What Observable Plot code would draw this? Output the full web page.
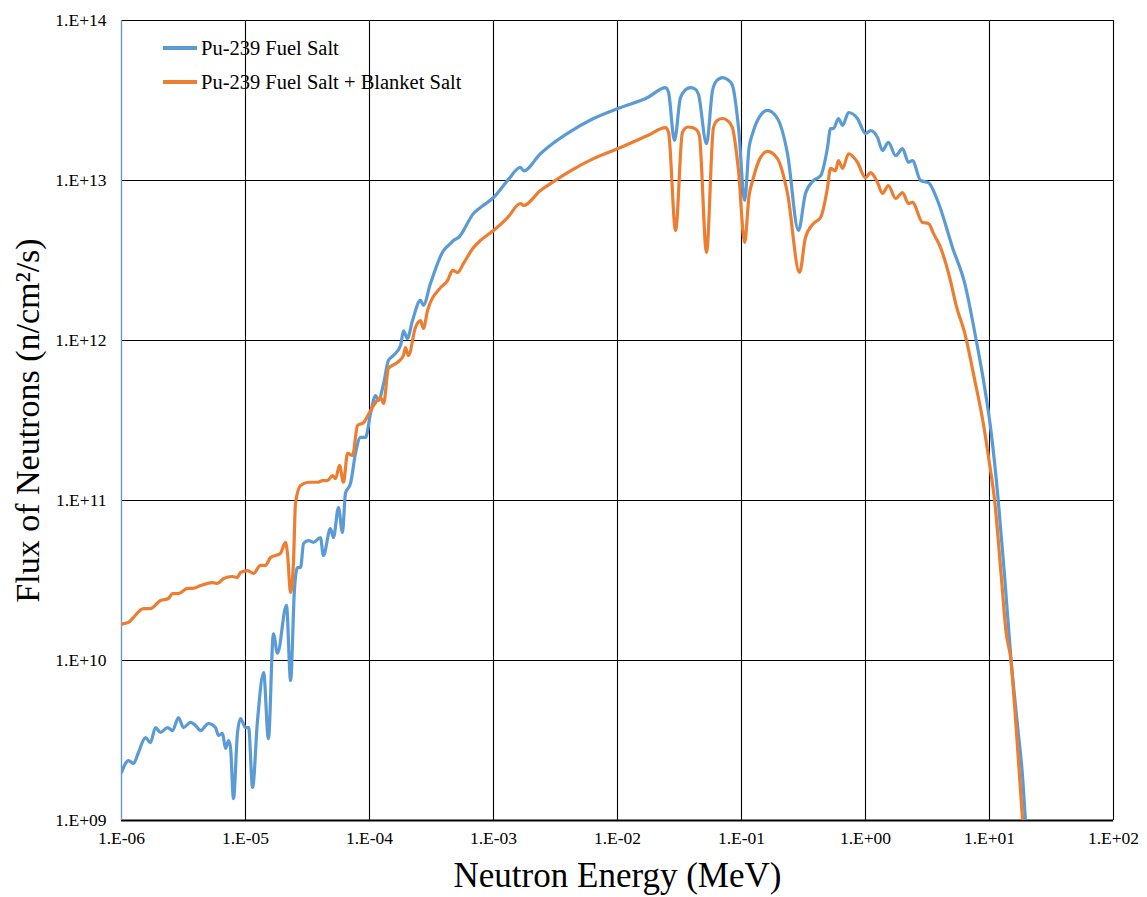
<!DOCTYPE html>
<html>
<head>
<meta charset="utf-8">
<script src="https://cdn.jsdelivr.net/npm/d3@7"></script>
<script src="https://cdn.jsdelivr.net/npm/@observablehq/plot@0.6"></script>
<style>
  body { margin: 0; background: #fff; }
  #wrap { position: relative; width: 1147px; height: 897px; font-family: "Liberation Serif", "Times New Roman", serif; }
  #legend { position: absolute; left: 163px; top: 31px; font-size: 20.5px; color: #000; }
  .li { display: flex; align-items: center; height: 34px; }
  .sw { width: 34px; height: 4px; margin-right: 4px; }
</style>
</head>
<body>
<div id="wrap"></div>
<script>
// Neutron energy (MeV) vs flux (n/cm^2/s)
const fuelSalt = [
  [1.0e-6,2.0e9],[1.14e-6,2.37e9],[1.25e-6,2.27e9],[1.37e-6,2.66e9],[1.56e-6,3.30e9],[1.71e-6,3.07e9],
  [1.88e-6,3.81e9],[2.06e-6,3.55e9],[2.35e-6,3.81e9],[2.58e-6,3.65e9],[2.88e-6,4.40e9],[3.16e-6,3.81e9],
  [3.60e-6,4.10e9],[3.95e-6,3.93e9],[4.34e-6,3.65e9],[5.03e-6,4.04e9],[5.73e-6,3.81e9],[6.05e-6,3.40e9],
  [6.53e-6,3.50e9],[6.90e-6,2.82e9],[7.30e-6,3.16e9],[7.57e-6,2.86e9],[8.00e-6,1.37e9],[8.61e-6,3.50e9],
  [9.12e-6,4.34e9],[1.0e-5,3.81e9],[1.06e-5,3.81e9],[1.14e-5,1.61e9],[1.25e-5,4.22e9],[1.40e-5,8.41e9],
  [1.53e-5,3.25e9],[1.68e-5,1.47e10],[1.81e-5,1.11e10],[2.14e-5,2.21e10],[2.31e-5,7.50e9],[2.48e-5,2.74e10],
  [2.62e-5,3.81e10],[2.78e-5,3.81e10],[2.94e-5,5.39e10],[3.22e-5,5.62e10],[3.53e-5,5.47e10],[4.02e-5,5.87e10],
  [4.25e-5,4.53e10],[4.84e-5,6.68e10],[5.12e-5,5.87e10],[5.62e-5,9.04e10],[6.05e-5,6.31e10],[6.40e-5,1.11e11],
  [7.03e-5,1.28e11],[7.71e-5,1.97e11],[8.45e-5,2.48e11],[9.29e-5,2.48e11],[1.02e-4,3.50e11],[1.12e-4,4.53e11],
  [1.18e-4,4.22e11],[1.30e-4,5.39e11],[1.42e-4,7.50e11],[1.56e-4,8.06e11],[1.78e-4,9.30e11],[1.88e-4,1.15e12],
  [2.02e-4,1.03e12],[2.22e-4,1.33e12],[2.58e-4,1.78e12],[2.72e-4,1.66e12],[3.10e-4,2.27e12],[3.95e-4,3.65e12],
  [4.50e-4,4.04e12],[4.75e-4,4.22e12],[5.22e-4,4.40e12],[6.90e-4,6.22e12],[7.85e-4,6.78e12],[1.0e-3,7.83e12],
  [1.30e-3,1.0e13],[1.65e-3,1.21e13],[1.75e-3,1.15e13],[2.39e-3,1.47e13],[2.88e-3,1.66e13],[3.95e-3,1.97e13],
  [6.40e-3,2.44e13],[1.06e-2,2.86e13],[1.75e-2,3.30e13],[2.44e-2,3.81e13],[2.58e-2,3.55e13],[2.88e-2,1.78e13],
  [3.22e-2,3.30e13],[3.55e-2,3.70e13],[3.88e-2,3.81e13],[4.25e-2,3.72e13],[4.50e-2,3.45e13],[5.22e-2,1.70e13],
  [5.84e-2,3.65e13],[6.30e-2,4.20e13],[7.03e-2,4.40e13],[7.80e-2,4.25e13],[8.45e-2,3.93e13],[9.46e-2,2.14e13],
  [0.106,7.50e12],[0.115,1.60e13],[0.123,1.97e13],[0.142,2.55e13],[0.162,2.74e13],
  [0.195,2.44e13],[0.235,1.47e13],[0.288,4.87e12],[0.328,8.30e12],[0.381,1.0e13],[0.434,1.07e13],
  [0.494,1.61e13],[0.522,2.11e13],[0.552,2.11e13],[0.605,2.44e13],[0.653,2.21e13],[0.730,2.66e13],
  [0.861,2.44e13],[1.0,1.97e13],[1.10,2.05e13],[1.25,1.86e13],[1.37,1.54e13],[1.53,1.73e13],
  [1.75,1.43e13],[1.99,1.58e13],[2.22,1.30e13],[2.39,1.33e13],[2.78,1.0e13],[3.22,9.7e12],
  [3.81,7.5e12],[5.07,3.75e12],[6.30,2.29e12],[7.82,1.0e12],[9.12,5.13e11],[10.3,2.69e11],
  [11.7,1.05e11],[13.2,3.47e10],[14.9,1.02e10],[16.9,3.8e9],[18.5,1.86e9],[19.5,1.0e9]
];
const fuelBlanketSalt = [
  [1.0e-6,1.69e10],[1.14e-6,1.73e10],[1.25e-6,1.86e10],[1.50e-6,2.11e10],[1.71e-6,2.11e10],[2.06e-6,2.37e10],
  [2.39e-6,2.44e10],[2.58e-6,2.62e10],[2.88e-6,2.62e10],[3.41e-6,2.82e10],[3.74e-6,2.82e10],[4.34e-6,2.94e10],
  [5.42e-6,3.07e10],[5.94e-6,3.03e10],[6.65e-6,3.25e10],[7.85e-6,3.35e10],[8.61e-6,3.30e10],[9.12e-6,3.55e10],
  [1.04e-5,3.65e10],[1.16e-5,3.50e10],[1.32e-5,3.93e10],[1.45e-5,3.93e10],[1.59e-5,4.40e10],[1.91e-5,4.67e10],
  [2.10e-5,5.47e10],[2.18e-5,4.67e10],[2.31e-5,2.66e10],[2.44e-5,4.22e10],[2.53e-5,9.57e10],[2.78e-5,1.24e11],
  [3.22e-5,1.30e11],[3.81e-5,1.30e11],[4.18e-5,1.33e11],[4.58e-5,1.33e11],[5.03e-5,1.43e11],[5.32e-5,1.37e11],
  [5.73e-5,1.66e11],[6.17e-5,1.30e11],[6.65e-5,1.97e11],[7.30e-5,1.91e11],[8.00e-5,2.94e11],[8.95e-5,3.07e11],
  [1.02e-4,3.65e11],[1.12e-4,4.10e11],[1.23e-4,4.40e11],[1.30e-4,4.04e11],[1.42e-4,6.68e11],[1.68e-4,7.29e11],
  [1.88e-4,8.06e11],[1.95e-4,9.04e11],[2.06e-4,8.06e11],[2.35e-4,1.21e12],[2.58e-4,1.33e12],[2.72e-4,1.19e12],
  [2.94e-4,1.54e12],[3.74e-4,2.14e12],[4.26e-4,2.37e12],[4.67e-4,2.74e12],[5.13e-4,2.66e12],[5.73e-4,3.03e12],
  [6.90e-4,3.81e12],[7.85e-4,4.22e12],[1.0e-3,4.87e12],[1.30e-3,5.87e12],[1.65e-3,7.18e12],[1.75e-3,6.98e12],
  [2.39e-3,8.66e12],[2.88e-3,9.57e12],[4.18e-3,1.15e13],[6.40e-3,1.37e13],[1.06e-2,1.61e13],[1.75e-2,1.91e13],
  [2.44e-2,2.14e13],[2.58e-2,2.0e13],[2.94e-2,4.87e12],[3.34e-2,2.0e13],[3.70e-2,2.16e13],[4.03e-2,2.14e13],
  [4.40e-2,2.05e13],[4.58e-2,1.90e13],[5.22e-2,3.55e12],[5.94e-2,2.14e13],[6.40e-2,2.38e13],[7.03e-2,2.44e13],
  [7.80e-2,2.35e13],[8.45e-2,2.14e13],[9.46e-2,1.15e13],[0.106,4.10e12],[0.115,8.0e12],
  [0.123,1.0e13],[0.142,1.39e13],[0.162,1.52e13],[0.195,1.37e13],[0.235,8.30e12],[0.294,2.66e12],
  [0.328,4.40e12],[0.381,5.39e12],[0.434,5.87e12],[0.494,9.04e12],[0.522,1.19e13],[0.573,1.15e13],
  [0.605,1.33e13],[0.653,1.19e13],[0.730,1.47e13],[0.861,1.30e13],[1.0,1.04e13],[1.10,1.12e13],
  [1.25,9.72e12],[1.37,8.30e12],[1.53,9.30e12],[1.75,7.72e12],[1.99,8.41e12],[2.22,7.18e12],
  [2.39,7.29e12],[2.88,5.47e12],[3.22,5.39e12],[3.53,4.67e12],[4.03,3.81e12],[4.84,2.37e12],
  [5.40,1.64e12],[6.30,1.12e12],[7.57,5.75e11],[8.83,3.16e11],[10.0,1.70e11],[11.0,1.0e11],
  [12.4,3.47e10],[13.6,1.51e10],[14.9,1.0e10],[16.4,3.8e9],[18.5,1.0e9]
];
const seriesNames = ["Pu-239 Fuel Salt", "Pu-239 Fuel Salt + Blanket Salt"];
const seriesColors = ["#5B9BD5", "#ED7D31"];
const xTicks = [1e-6, 1e-5, 1e-4, 1e-3, 1e-2, 1e-1, 1e0, 1e1, 1e2];
const yTicks = [1e9, 1e10, 1e11, 1e12, 1e13, 1e14];
const xTitle = "Neutron Energy (MeV)";
const yTitle = "Flux of Neutrons (n/cm²/s)";

const expFmt = d => {
  const e = Math.round(Math.log10(d));
  return "1.E" + (e < 0 ? "-" : "+") + String(Math.abs(e)).padStart(2, "0");
};
const font = "Liberation Serif, Times New Roman, serif";

const rows = [
  ...fuelSalt.map(([E, F]) => ({E, F, s: seriesNames[0]})),
  ...fuelBlanketSalt.map(([E, F]) => ({E, F, s: seriesNames[1]}))
];

const chart = Plot.plot({
  width: 1147,
  height: 897,
  marginLeft: 121,
  marginRight: 34,
  marginTop: 20,
  marginBottom: 77,
  style: {fontFamily: font, background: "#fff", color: "#000"},
  x: {type: "log", domain: [1e-6, 1e2]},
  y: {type: "log", domain: [1e9, 1e14]},
  color: {domain: seriesNames, range: seriesColors},
  marks: [
    Plot.ruleX(xTicks, {stroke: "#000", strokeWidth: 1.1}),
    Plot.ruleY(yTicks.slice(1), {stroke: "#000", strokeWidth: 1.1}),
    Plot.ruleY([1e9], {stroke: "#000", strokeWidth: 2}),
    Plot.ruleX([1e-6], {stroke: "#5B9BD5", strokeWidth: 1.2}),
    Plot.line(rows, {x: "E", y: "F", z: "s", stroke: "s", strokeWidth: 3.2, curve: "monotone-x", clip: true}),
    Plot.axisX(xTicks, {tickSize: 0, tickPadding: 11, tickFormat: expFmt, fontSize: 17.5, label: null}),
    Plot.axisY(yTicks, {tickSize: 0, tickPadding: 15, tickFormat: expFmt, fontSize: 17.5, label: null}),
    Plot.text([xTitle], {frameAnchor: "bottom", dy: 66, fontSize: 35, fontFamily: font, fill: "#000"}),
    Plot.text([yTitle], {frameAnchor: "left", textAnchor: "middle", dx: -93, rotate: -90, fontSize: 34, fontFamily: font, fill: "#000"})
  ]
});

const wrap = document.getElementById("wrap");
wrap.appendChild(chart);
const legend = document.createElement("div");
legend.id = "legend";
seriesNames.forEach((n, i) => {
  const li = document.createElement("div");
  li.className = "li";
  const sw = document.createElement("div");
  sw.className = "sw";
  sw.style.background = seriesColors[i];
  const t = document.createElement("span");
  t.textContent = n;
  li.appendChild(sw);
  li.appendChild(t);
  legend.appendChild(li);
});
wrap.appendChild(legend);
</script>
</body>
</html>
